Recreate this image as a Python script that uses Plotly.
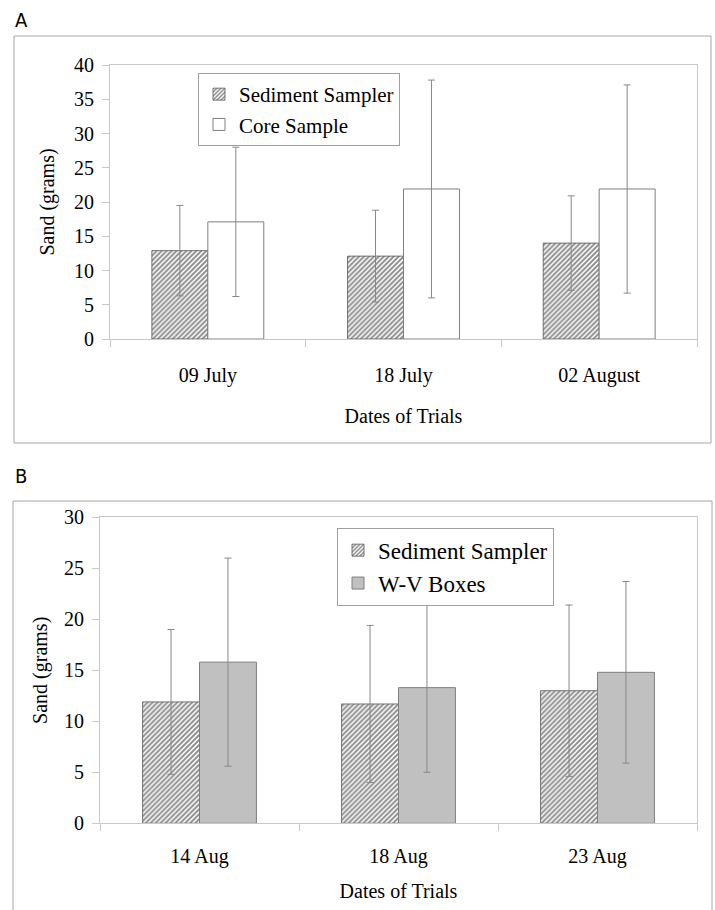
import plotly.graph_objects as go

W, H = 715, 910

# Panel A data
dates_a = ["09 July", "18 July", "02 August"]
sediment_a = [12.9, 12.1, 14.0]
sediment_a_err = [6.6, 6.7, 6.9]
core_a = [17.1, 21.9, 21.9]
core_a_err = [10.9, 15.9, 15.2]

# Panel B data
dates_b = ["14 Aug", "18 Aug", "23 Aug"]
sediment_b = [11.9, 11.7, 13.0]
sediment_b_err = [7.1, 7.7, 8.4]
wv_b = [15.8, 13.3, 14.8]
wv_b_err = [10.2, 8.3, 8.9]

SERIF = "Liberation Serif, Times New Roman, serif"
COND = "Liberation Sans Narrow, DejaVu Sans Condensed, Roboto, sans-serif"
EDGE = "#7f7f7f"
AXC = "#c8c8c8"

hatch = dict(shape="/", fgcolor="#1a1a1a", bgcolor="white", size=3.5, solidity=0.55)
err_style = dict(type="data", visible=True, color="#888888", thickness=1, width=3.5)

fig = go.Figure()

fig.add_trace(go.Bar(
    x=dates_a, y=sediment_a, name="Sediment Sampler",
    error_y=dict(array=sediment_a_err, **err_style),
    marker=dict(color="white", pattern=hatch, line=dict(color="#555555", width=0.8)),
    xaxis="x", yaxis="y", legend="legend"))
fig.add_trace(go.Bar(
    x=dates_a, y=core_a, name="Core Sample",
    error_y=dict(array=core_a_err, **err_style),
    marker=dict(color="white", line=dict(color=EDGE, width=1)),
    xaxis="x", yaxis="y", legend="legend"))

fig.add_trace(go.Bar(
    x=dates_b, y=sediment_b, name="Sediment Sampler",
    error_y=dict(array=sediment_b_err, **err_style),
    marker=dict(color="white", pattern=hatch, line=dict(color="#555555", width=0.8)),
    xaxis="x2", yaxis="y2", legend="legend2"))
fig.add_trace(go.Bar(
    x=dates_b, y=wv_b, name="W-V Boxes",
    error_y=dict(array=wv_b_err, **err_style),
    marker=dict(color="#c0c0c0", line=dict(color=EDGE, width=1)),
    xaxis="x2", yaxis="y2", legend="legend2"))

def px_x(v):
    return v / W

def px_y(v):
    return 1 - v / H

xcommon = dict(showline=True, linecolor=AXC, linewidth=1, mirror=True,
               ticks="outside", ticklen=7, tickcolor=AXC, tickson="boundaries",
               showgrid=False, zeroline=False, automargin=False,
               tickfont=dict(family=SERIF, size=20, color="black"),
               title_font=dict(family=SERIF, size=20, color="black"))
ycommon = dict(showline=True, linecolor=AXC, linewidth=1, mirror=True,
               ticks="outside", ticklen=7, tickcolor=AXC,
               showgrid=False, zeroline=False, automargin=False,
               tickfont=dict(family=SERIF, size=20, color="black"),
               title_font=dict(family=SERIF, size=20, color="black"))

fig.update_layout(
    width=W, height=H, autosize=False,
    margin=dict(l=0, r=0, t=0, b=0, pad=0, autoexpand=False),
    paper_bgcolor="white", plot_bgcolor="white",
    barmode="group", bargap=0.428, bargroupgap=0,
    showlegend=True,
    xaxis=dict(domain=[px_x(110), px_x(697)], anchor="y",
               title=dict(text="Dates of Trials", standoff=22),
               ticklabelstandoff=18, **xcommon),
    yaxis=dict(domain=[px_y(339), px_y(65)], anchor="x", range=[0, 40], dtick=5,
               title=dict(text="Sand (grams)", standoff=14),
               ticklabelstandoff=4, **ycommon),
    xaxis2=dict(domain=[px_x(100), px_x(697)], anchor="y2",
                title=dict(text="Dates of Trials", standoff=16),
                ticklabelstandoff=15, **xcommon),
    yaxis2=dict(domain=[px_y(823.3), px_y(517.3)], anchor="x2", range=[0, 30], dtick=5,
                title=dict(text="Sand (grams)", standoff=10),
                ticklabelstandoff=4, **ycommon),
    legend=dict(x=px_x(198), y=px_y(73), xanchor="left", yanchor="top",
                bgcolor="white", bordercolor="#a0a0a0", borderwidth=1,
                font=dict(family=SERIF, size=21, color="black"),
                itemwidth=30, tracegroupgap=0),
    legend2=dict(x=px_x(337), y=px_y(527.7), xanchor="left", yanchor="top",
                 bgcolor="white", bordercolor="#a0a0a0", borderwidth=1,
                 font=dict(family=SERIF, size=23, color="black"),
                 itemwidth=30, tracegroupgap=0),
    shapes=[
        dict(type="rect", xref="paper", yref="paper",
             x0=px_x(14), x1=px_x(711), y0=px_y(443), y1=px_y(36),
             line=dict(color="#a6a6a6", width=1), layer="below"),
        dict(type="rect", xref="paper", yref="paper",
             x0=px_x(13), x1=px_x(712), y0=px_y(912), y1=px_y(501),
             line=dict(color="#a6a6a6", width=1), layer="below"),
    ],
    annotations=[
        dict(text="A", xref="paper", yref="paper", x=px_x(13), y=px_y(20),
             xanchor="left", yanchor="middle", showarrow=False,
             font=dict(family=COND, size=20, color="black")),
        dict(text="B", xref="paper", yref="paper", x=px_x(13), y=px_y(476),
             xanchor="left", yanchor="middle", showarrow=False,
             font=dict(family=COND, size=20, color="black")),
    ],
)

fig.write_html(
    "out.html",
    config={"displayModeBar": False},
    post_script="document.body.style.margin='0';document.body.style.padding='0';"
                "document.documentElement.style.overflow='hidden';",
)
